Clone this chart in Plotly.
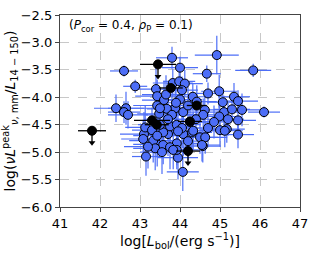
import plotly.graph_objects as go

# Blue detections: log Lbol, log ratio, and errors
blue_x = [42.60, 42.88, 42.40, 42.65, 42.60, 42.70, 43.15, 43.10, 43.80, 44.92,
          44.00, 44.67, 45.83, 43.82, 43.98, 44.12, 43.40, 43.43, 44.05, 44.70,
          44.98, 45.35, 45.45, 45.07, 45.55, 46.10, 44.00, 44.32, 44.42, 43.88,
          44.08, 44.62, 45.10, 45.30, 44.98, 45.45, 45.45, 45.00, 45.17, 44.70,
          44.57, 43.95, 44.07, 43.92, 43.92, 44.50, 44.30, 44.08, 43.70, 43.58,
          43.43, 43.58, 43.75, 43.43, 43.48, 43.67, 43.80, 43.75, 43.92, 44.05,
          43.08, 44.58, 44.33, 45.12, 44.63, 43.33, 43.38, 43.83, 44.55, 43.13,
          43.60, 43.65, 43.30, 43.90, 44.20, 44.25, 44.40, 43.20, 43.55, 44.20,
          43.70, 43.50, 44.85, 45.20, 43.43, 43.50, 43.95]
blue_y = [-3.52, -3.80, -4.20, -4.20, -4.27, -4.32, -5.08, -4.67, -3.28, -3.23,
          -3.46, -3.57, -3.51, -3.74, -3.71, -3.75, -3.85, -3.98, -3.87, -3.93,
          -3.89, -3.99, -4.07, -4.09, -4.23, -4.27, -4.04, -3.99, -4.08, -4.20,
          -4.27, -4.23, -4.27, -4.22, -4.35, -4.42, -4.68, -4.60, -4.58, -4.56,
          -4.89, -5.10, -5.36, -4.84, -4.96, -4.73, -4.64, -4.67, -4.67, -4.64,
          -4.86, -4.87, -4.91, -4.15, -4.30, -4.21, -4.32, -4.53, -4.50, -4.56,
          -4.76, -4.32, -4.61, -4.61, -4.73, -4.79, -4.93, -4.96, -4.87, -4.55,
          -4.05, -3.95, -4.60, -4.10, -4.15, -4.45, -4.40, -4.90, -5.00, -4.80,
          -4.40, -4.50, -4.45, -4.40, -4.70, -4.20, -4.62]
blue_xerr = [0.35, 0.30, 0.55, 0.45, 0.40, 0.50, 0.35, 0.60, 0.40, 0.55,
             0.45, 0.35, 0.45, 0.50, 0.40, 0.45, 0.60, 0.55, 0.40, 0.35,
             0.45, 0.40, 0.50, 0.40, 0.45, 0.40, 0.55, 0.45, 0.50, 0.60,
             0.50, 0.40, 0.55, 0.45, 0.50, 0.45, 0.40, 0.50, 0.45, 0.55,
             0.45, 0.50, 0.40, 0.60, 0.55, 0.45, 0.50, 0.60, 0.65, 0.55,
             0.60, 0.50, 0.55, 0.60, 0.55, 0.50, 0.65, 0.55, 0.60, 0.50,
             0.55, 0.45, 0.50, 0.45, 0.55, 0.60, 0.55, 0.50, 0.45, 0.50,
             0.55, 0.60, 0.50, 0.55, 0.45, 0.55, 0.50, 0.60, 0.55, 0.50,
             0.60, 0.55, 0.45, 0.40, 0.60, 0.55, 0.50]
blue_yerr = [0.10, 0.12, 0.25, 0.30, 0.20, 0.25, 0.35, 0.40, 0.20, 0.35,
             0.20, 0.15, 0.12, 0.25, 0.20, 0.25, 0.40, 0.30, 0.25, 0.20,
             0.30, 0.25, 0.20, 0.25, 0.30, 0.10, 0.30, 0.25, 0.30, 0.35,
             0.30, 0.25, 0.30, 0.20, 0.25, 0.30, 0.25, 0.30, 0.25, 0.35,
             0.30, 0.40, 0.35, 0.40, 0.35, 0.30, 0.35, 0.40, 0.40, 0.35,
             0.40, 0.35, 0.40, 0.35, 0.40, 0.35, 0.40, 0.35, 0.40, 0.35,
             0.35, 0.30, 0.35, 0.30, 0.30, 0.40, 0.40, 0.35, 0.30, 0.40,
             0.35, 0.35, 0.40, 0.35, 0.35, 0.40, 0.35, 0.40, 0.40, 0.35,
             0.40, 0.40, 0.30, 0.30, 0.40, 0.35, 0.35]

# Black points (upper limits and others)
black_x = [43.45, 41.80, 43.77, 43.30, 43.42, 44.25, 44.42, 44.20]
black_y = [-3.40, -4.61, -3.83, -4.42, -4.50, -4.44, -4.15, -4.98]
black_xerr = [0.45, 0.35, 0.30, 0.45, 0.30, 0.30, 0.25, 0.30]
black_limit = [True, True, False, False, False, False, False, True]
arrow_len = 0.22

x_ticks = [41, 42, 43, 44, 45, 46, 47]
y_ticks = [-6.0, -5.5, -5.0, -4.5, -4.0, -3.5, -3.0, -2.5]
y_tick_text = ["\u22126.0", "\u22125.5", "\u22125.0", "\u22124.5", "\u22124.0",
               "\u22123.5", "\u22123.0", "\u22122.5"]

blue = "#4d6ef7"
fig = go.Figure()

fig.add_trace(go.Scatter(
    x=blue_x, y=blue_y, mode="markers",
    error_x=dict(type="data", array=blue_xerr, color=blue, thickness=1.2, width=0),
    error_y=dict(type="data", array=blue_yerr, color=blue, thickness=1.2, width=0),
    marker=dict(size=9, color=blue, line=dict(color="black", width=1)),
    showlegend=False))

# arrows for upper limits
for bx, by, lim in zip(black_x, black_y, black_limit):
    if lim:
        fig.add_trace(go.Scatter(
            x=[bx, bx], y=[by, by - arrow_len], mode="lines",
            line=dict(color="black", width=1.3), showlegend=False))
        fig.add_trace(go.Scatter(
            x=[bx], y=[by - arrow_len], mode="markers",
            marker=dict(symbol="triangle-down", size=6, color="black"),
            showlegend=False))

fig.add_trace(go.Scatter(
    x=black_x, y=black_y, mode="markers",
    error_x=dict(type="data", array=black_xerr, color="black", thickness=1.3, width=0),
    marker=dict(size=9, color="black", line=dict(color="black", width=1)),
    showlegend=False))

axis_common = dict(
    showgrid=True, gridcolor="#c8c8c8", griddash="dash", gridwidth=0.8,
    zeroline=False, showline=True, linecolor="#444", linewidth=1.2, mirror=True,
    ticks="outside", ticklen=4, tickcolor="#444",
    tickfont=dict(family="DejaVu Sans", size=13, color="black"),
)

fig.update_xaxes(range=[41, 47], tickvals=x_ticks,
                 title=dict(text="log[<i>L</i><sub>bol</sub>/(erg s<sup>\u22121</sup>)]",
                            font=dict(family="DejaVu Sans", size=14, color="black"),
                            standoff=4),
                 **axis_common)
fig.update_yaxes(range=[-6.0, -2.5], tickvals=y_ticks, ticktext=y_tick_text,
                 title=dict(text="log(<i>\u03bdL</i><sup>peak</sup><sub><i>\u03bd</i>, mm</sub>/<i>L</i><sub>14 \u2212 150</sub>)",
                            font=dict(family="DejaVu Sans", size=14, color="black"),
                            standoff=2),
                 **axis_common)

fig.add_annotation(
    x=0.03, y=0.995, xref="paper", yref="paper", xanchor="left", yanchor="top",
    text="(<i>P</i><sub>cor</sub> = 0.4, <i>\u03c1</i><sub>P</sub> = 0.1)",
    showarrow=False, font=dict(family="DejaVu Sans", size=12, color="black"))

fig.update_layout(
    width=316, height=253,
    margin=dict(l=60, r=16, t=8, b=43),
    plot_bgcolor="white", paper_bgcolor="white",
)

fig.write_html("out.html", config={"displayModeBar": False},
               post_script="document.body.style.margin='0';")
